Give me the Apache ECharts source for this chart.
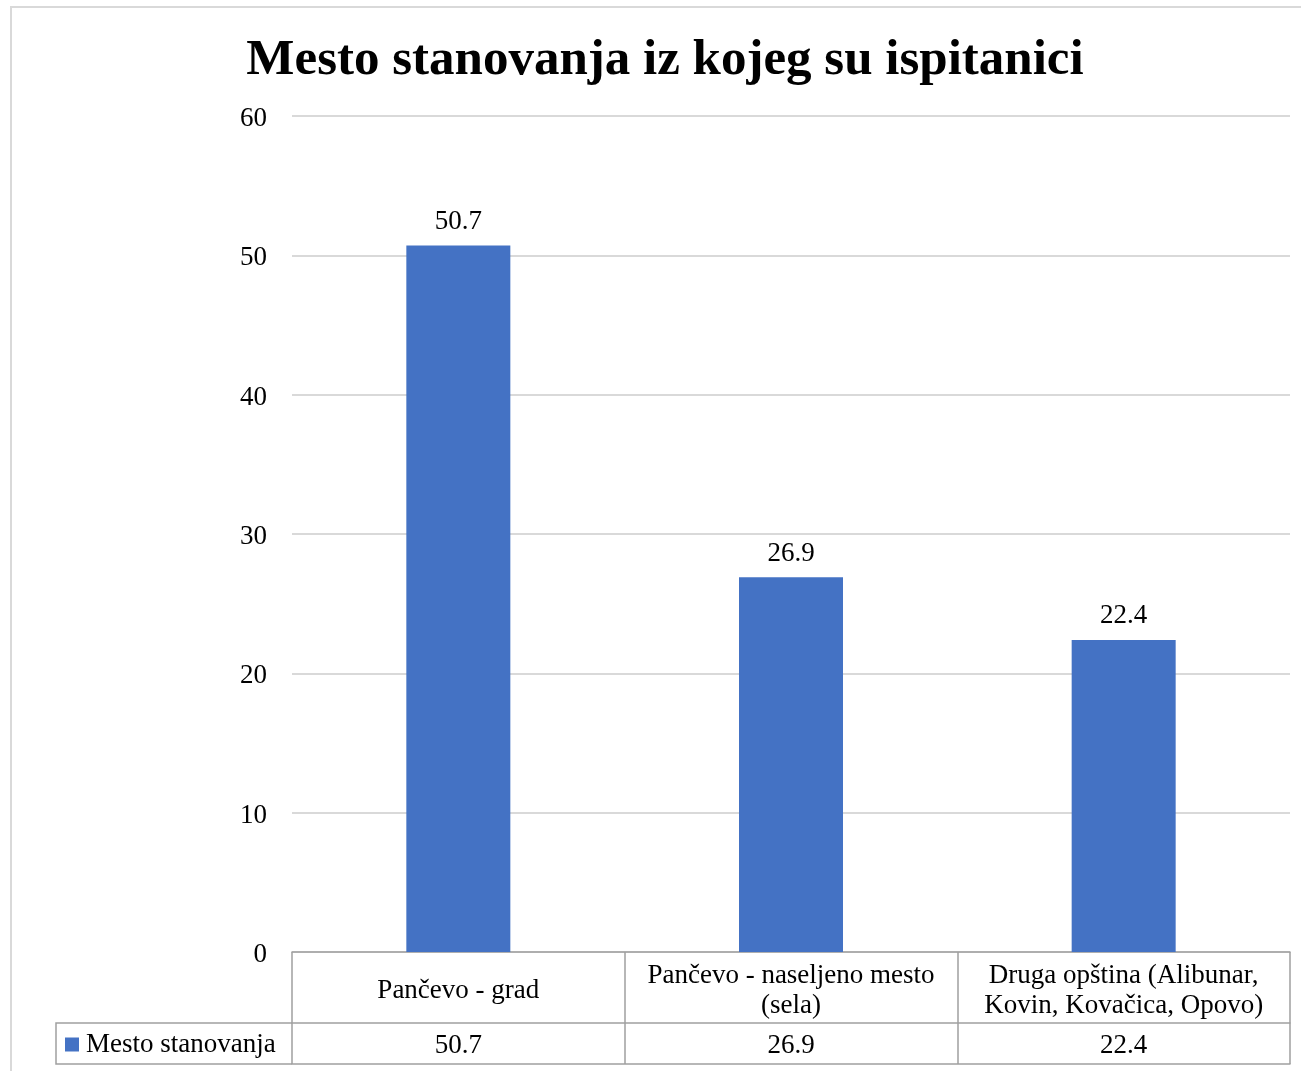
<!DOCTYPE html>
<html>
<head>
<meta charset="utf-8">
<script src="https://cdn.jsdelivr.net/npm/echarts@6/dist/echarts.min.js"></script>
<style>
html,body{margin:0;padding:0;background:#fff;}
#c{width:1301px;height:1071px;}
</style>
</head>
<body>
<div id="c"></div>
<script>
const titleText = 'Mesto stanovanja iz kojeg su ispitanici';
const seriesName = 'Mesto stanovanja';
const categories = ['Pančevo - grad', 'Pančevo - naseljeno mesto\n(sela)', 'Druga opština (Alibunar,\nKovin, Kovačica, Opovo)'];
const values = [50.7, 26.9, 22.4];
const yTicks = [0, 10, 20, 30, 40, 50, 60];

const FONT = 'Liberation Serif';
const FS = 27;
const BLUE = '#4472C4';
const TABLE = '#A0A0A0';
const W = 1301, H = 1071;
const gL = 292, gR = 1290, gT = 116, gB = 952;
const row1 = 71, row2 = 41;
const legendLeft = 56;

const chart = echarts.init(document.getElementById('c'), null, {renderer: 'canvas'});
const option = {
  backgroundColor: '#fff',
  animation: false,
  textStyle: {fontFamily: FONT},
  title: {
    text: titleText,
    left: 660, top: 30, textAlign: 'center',
    textStyle: {fontFamily: FONT, fontSize: 51, fontWeight: 'bold', color: '#000'}
  },
  legend: {
    show: true,
    left: legendLeft + 9, top: gB + row1 + 8, padding: 0,
    itemWidth: 14, itemHeight: 14, itemGap: 0,
    icon: 'rect',
    textStyle: {fontFamily: FONT, fontSize: FS, color: '#000', padding: [0, 0, 0, 2]},
    data: [seriesName]
  },
  grid: {left: gL, right: W - gR, top: gT, bottom: H - gB, containLabel: false},
  yAxis: {
    type: 'value', min: yTicks[0], max: yTicks[yTicks.length - 1], interval: 10,
    axisLine: {show: false}, axisTick: {show: false},
    splitLine: {lineStyle: {color: '#D9D9D9', width: 2}},
    axisLabel: {
      margin: 25, verticalAlign: 'middle',
      formatter: '{t|{value}}',
      rich: {t: {fontFamily: FONT, fontSize: FS, color: '#000', padding: [6, 0, 0, 0]}}
    }
  },
  xAxis: [
    {
      type: 'category', data: categories, position: 'bottom',
      axisLine: {lineStyle: {color: TABLE, width: 1.5}},
      axisTick: {show: true, length: row1, lineStyle: {color: TABLE, width: 1.5}},
      axisLabel: {fontFamily: FONT, fontSize: FS, color: '#000', margin: 39, verticalAlign: 'middle', lineHeight: 30, interval: 0}
    },
    {
      type: 'category', data: values.map(String), position: 'bottom', offset: row1,
      axisLine: {lineStyle: {color: TABLE, width: 1.5}},
      axisTick: {show: true, length: row2, lineStyle: {color: TABLE, width: 1.5}},
      axisLabel: {fontFamily: FONT, fontSize: FS, color: '#000', margin: 23, verticalAlign: 'middle', interval: 0}
    },
    {
      type: 'category', data: values.map(String), position: 'bottom', offset: row1 + row2,
      axisLine: {lineStyle: {color: TABLE, width: 1.5}},
      axisTick: {show: false}, axisLabel: {show: false}
    }
  ],
  series: [{
    name: seriesName, type: 'bar', data: values, xAxisIndex: 0,
    barWidth: 104,
    itemStyle: {color: BLUE},
    label: {show: true, position: 'top', distance: 10, fontFamily: FONT, fontSize: FS, color: '#000'}
  }],
  graphic: [
    {type: 'rect', silent: true, shape: {x: 11, y: 7, width: W, height: H}, style: {fill: 'none', stroke: '#D9D9D9', lineWidth: 2}},
    {type: 'polyline', silent: true, shape: {points: [[gL, gB + row1], [legendLeft, gB + row1], [legendLeft, gB + row1 + row2], [gL, gB + row1 + row2]]}, style: {fill: 'none', stroke: TABLE, lineWidth: 1.5}}
  ]
};
chart.setOption(option);
</script>
</body>
</html>
